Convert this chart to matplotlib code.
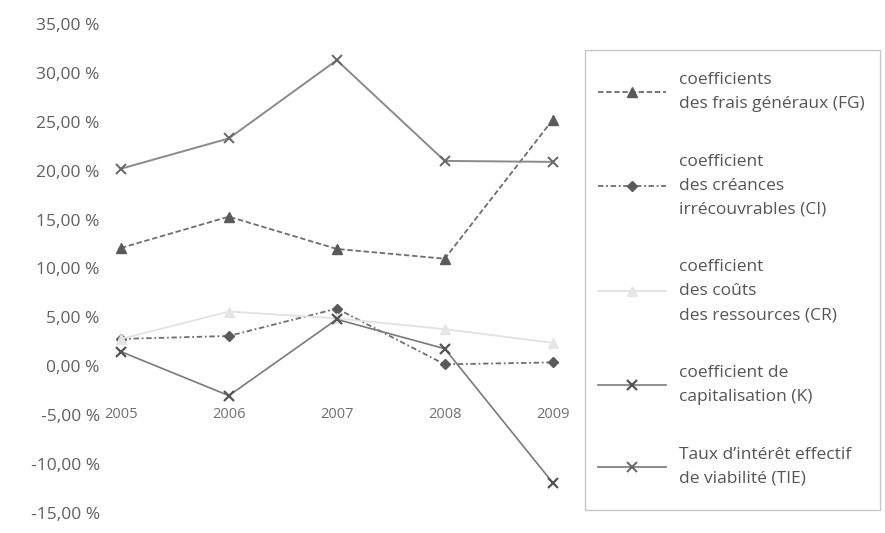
import matplotlib
matplotlib.use("Agg")
import matplotlib.pyplot as plt
from matplotlib.patches import Rectangle
from matplotlib.ticker import FuncFormatter

# coefficients annuels (en %)
years = ["2005", "2006", "2007", "2008", "2009"]
fg = [12.1, 15.3, 12.0, 11.0, 25.2]
ci = [2.8, 3.1, 5.9, 0.2, 0.4]
cr = [2.8, 5.6, 4.9, 3.8, 2.4]
k = [1.5, -3.0, 4.8, 1.8, -11.9]
tie = [20.2, 23.3, 31.3, 21.0, 20.9]

labels = [
    "coefficients\ndes frais généraux (FG)",
    "coefficient\ndes créances\nirrécouvrables (CI)",
    "coefficient\ndes coûts\ndes ressources (CR)",
    "coefficient de\ncapitalisation (K)",
    "Taux d\u2019intérêt effectif\nde viabilité (TIE)",
]

plt.rcParams["font.family"] = ["Open Sans", "DejaVu Sans"]

fig = plt.figure(figsize=(8.85, 5.33), dpi=100)
ax = fig.add_axes([0.122, 0.0375, 0.522, 0.9175])

x = range(len(years))
h_fg, = ax.plot(x, fg, color="#6e6e6e", ls=(0, (3, 1.5)), lw=1.3,
                marker="^", ms=7, mfc="#5a5a5a", mec="#5a5a5a")
h_ci, = ax.plot(x, ci, color="#6e6e6e", ls=(0, (3, 1.5, 1, 1.5)), lw=1.3,
                marker="D", ms=5.5, mfc="#5a5a5a", mec="#5a5a5a")
h_cr, = ax.plot(x, cr, color="#e2e2e2", lw=1.3,
                marker="^", ms=6.5, mfc="#e6e6e6", mec="#e6e6e6")
h_k, = ax.plot(x, k, color="#7a7a7a", lw=1.2,
               marker="x", ms=7, mew=1.6, mec="#555555")
h_tie, = ax.plot(x, tie, color="#8a8a8a", lw=1.4,
                 marker="x", ms=7, mew=1.4, mec="#666666")

ax.set_xlim(-0.12, 4.16)
ax.set_ylim(-15, 35)
ax.set_yticks(range(-15, 40, 5))
ax.yaxis.set_major_formatter(FuncFormatter(lambda v, _: f"{v:.2f}".replace(".", ",") + " %"))
ax.set_xticks(list(x))
ax.set_xticklabels(years)

for s in ("top", "right", "left"):
    ax.spines[s].set_visible(False)
ax.spines["bottom"].set_position(("data", 0))
ax.spines["bottom"].set_color("none")
ax.tick_params(axis="y", length=0, pad=6, labelsize=12.5, labelcolor="#606060")
ax.tick_params(axis="x", length=0, pad=29, labelsize=10.5, labelcolor="#707070")

# cadre de la légende
fig.patches.append(Rectangle((0.661, 0.043), 0.333, 0.863, transform=fig.transFigure,
                             fill=False, edgecolor="#c4c4c4", lw=0.9))

leg = fig.legend([h_fg, h_ci, h_cr, h_k, h_tie], labels,
                 loc="upper left", bbox_to_anchor=(598 / 885, 1 - 72 / 533),
                 frameon=False, fontsize=12.5, borderaxespad=0, borderpad=0,
                 handlelength=3.9, handletextpad=0.75, labelspacing=2.4,
                 labelcolor="#555555")
for t in leg.get_texts():
    t.set_linespacing(1.67)

fig.savefig("out.png", dpi=100)
